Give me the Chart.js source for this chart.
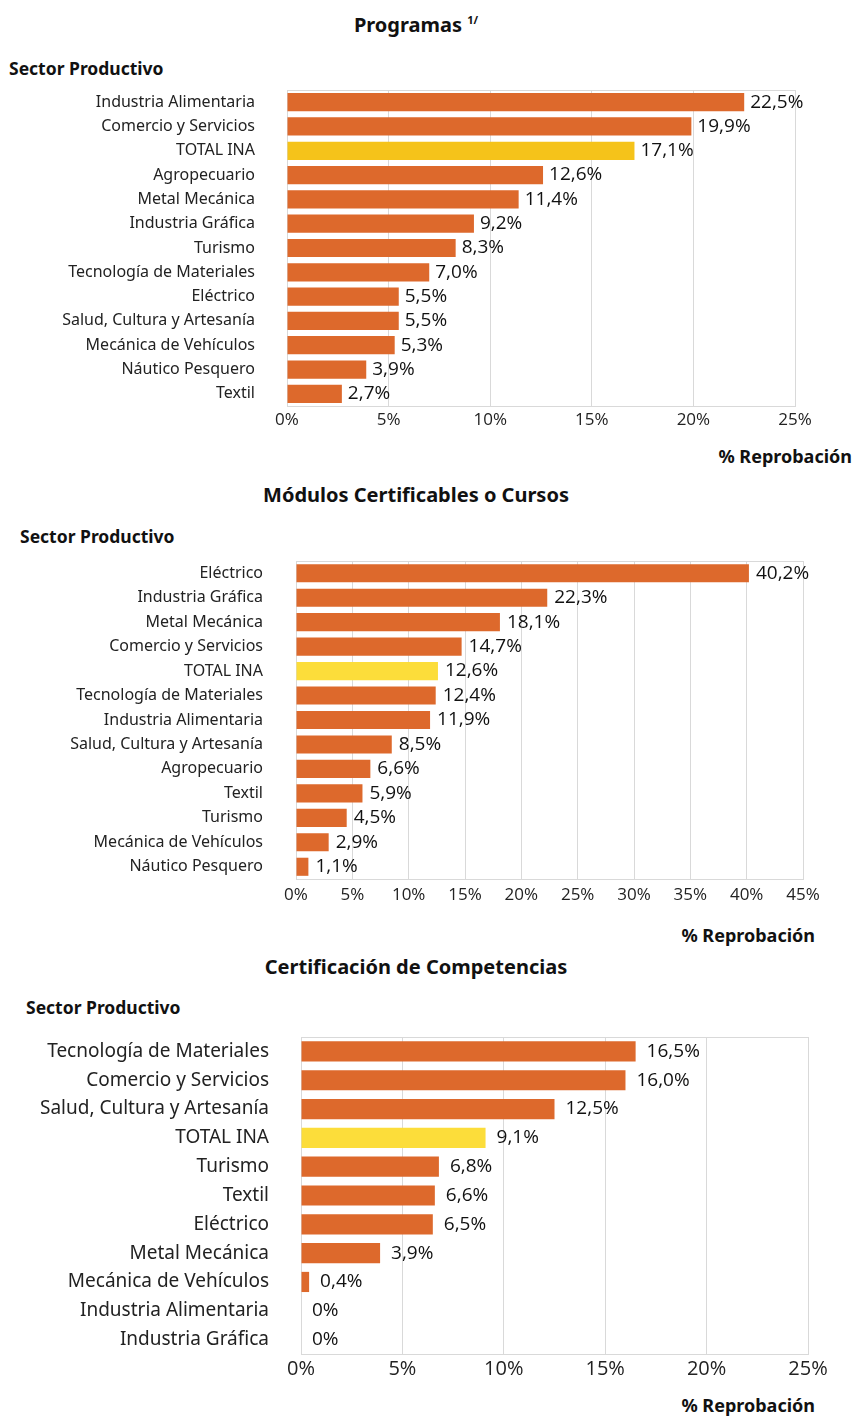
<!DOCTYPE html>
<html>
<head>
<meta charset="utf-8">
<script src="https://cdn.jsdelivr.net/npm/chart.js@4.4.1/dist/chart.umd.min.js"></script>
<style>
  body { margin: 0; background: #fff; width: 853px; height: 1416px; position: relative; overflow: hidden; font-family: "Noto Sans", sans-serif; color: #111; }
  .txt { position: absolute; white-space: nowrap; line-height: 26px; }
  .title { font-weight: bold; font-size: 20px; left: 0; width: 832px; text-align: center; }
  .title sup { font-size: 11px; vertical-align: 8px; }
  .sector { font-weight: bold; font-size: 17.5px; }
  .reprob { font-weight: bold; font-size: 18px; text-align: right; }
  canvas { position: absolute; left: 0; }
</style>
</head>
<body>
<div class="txt title" style="top:7px">Programas <sup>1/</sup></div>
<div class="txt sector" style="top:55px;left:9px">Sector Productivo</div>
<div class="txt reprob" style="top:443px;right:1px">% Reprobación</div>

<div class="txt title" style="top:482px">Módulos Certificables o Cursos</div>
<div class="txt sector" style="top:523px;left:20px">Sector Productivo</div>
<div class="txt reprob" style="top:922px;right:38px">% Reprobación</div>

<div class="txt title" style="top:954px">Certificación de Competencias</div>
<div class="txt sector" style="top:994px;left:26px">Sector Productivo</div>
<div class="txt reprob" style="top:1392px;right:38px">% Reprobación</div>

<div style="position:absolute;left:0;top:80px;width:853px;height:356px"><canvas id="c1"></canvas></div>
<div style="position:absolute;left:0;top:550px;width:853px;height:359px"><canvas id="c2"></canvas></div>
<div style="position:absolute;left:0;top:1025px;width:853px;height:361px"><canvas id="c3"></canvas></div>

<script>
// --- datos ---
const progLabels = ['Industria Alimentaria', 'Comercio y Servicios', 'TOTAL INA', 'Agropecuario', 'Metal Mecánica',
    'Industria Gráfica', 'Turismo', 'Tecnología de Materiales', 'Eléctrico', 'Salud, Cultura y Artesanía',
    'Mecánica de Vehículos', 'Náutico Pesquero', 'Textil'];
const progValues = [22.5, 19.9, 17.1, 12.6, 11.4, 9.2, 8.3, 7.0, 5.5, 5.5, 5.3, 3.9, 2.7];
const progTicks = [0, 5, 10, 15, 20, 25];

const modLabels = ['Eléctrico', 'Industria Gráfica', 'Metal Mecánica', 'Comercio y Servicios', 'TOTAL INA',
    'Tecnología de Materiales', 'Industria Alimentaria', 'Salud, Cultura y Artesanía', 'Agropecuario', 'Textil',
    'Turismo', 'Mecánica de Vehículos', 'Náutico Pesquero'];
const modValues = [40.2, 22.3, 18.1, 14.7, 12.6, 12.4, 11.9, 8.5, 6.6, 5.9, 4.5, 2.9, 1.1];
const modTicks = [0, 5, 10, 15, 20, 25, 30, 35, 40, 45];

const certLabels = ['Tecnología de Materiales', 'Comercio y Servicios', 'Salud, Cultura y Artesanía', 'TOTAL INA',
    'Turismo', 'Textil', 'Eléctrico', 'Metal Mecánica', 'Mecánica de Vehículos', 'Industria Alimentaria', 'Industria Gráfica'];
const certValues = [16.5, 16.0, 12.5, 9.1, 6.8, 6.6, 6.5, 3.9, 0.4, 0, 0];
const certTicks = [0, 5, 10, 15, 20, 25];

const ORANGE = '#DD692C';
const fmt = v => v === 0 ? '0%' : v.toFixed(1).replace('.', ',') + '%';

// etiquetas de valor y marco del área
const valueLabels = {
    id: 'valueLabels',
    afterDatasetsDraw(chart, args, opts) {
        const ctx = chart.ctx;
        const meta = chart.getDatasetMeta(0);
        ctx.save();
        ctx.font = opts.size + 'px "Open Sans", sans-serif';
        ctx.fillStyle = '#111';
        ctx.textBaseline = 'middle';
        ctx.textAlign = 'left';
        meta.data.forEach((bar, i) => {
            const v = chart.data.datasets[0].data[i];
            ctx.fillText(fmt(v), bar.x + opts.offset, bar.y);
        });
        ctx.restore();
    }
};
const frame = {
    id: 'frame',
    beforeDatasetsDraw(chart) {
        const a = chart.chartArea, ctx = chart.ctx;
        ctx.save();
        ctx.strokeStyle = '#d9d9d9';
        ctx.lineWidth = 1;
        ctx.strokeRect(Math.round(a.left) + 0.5, Math.round(a.top) + 0.5, Math.round(a.right - a.left), Math.round(a.bottom - a.top));
        ctx.restore();
    }
};

function makeChart(id, labels, values, ticks, cfg) {
    const max = ticks[ticks.length - 1];
    const colors = labels.map(l => l === 'TOTAL INA' ? cfg.yellow : ORANGE);
    return new Chart(document.getElementById(id), {
        type: 'bar',
        data: {
            labels: labels,
            datasets: [{
                data: values,
                backgroundColor: colors,
                borderWidth: 0,
                barPercentage: cfg.bar,
                categoryPercentage: 1
            }]
        },
        plugins: [valueLabels, frame],
        options: {
            indexAxis: 'y',
            responsive: true,
            maintainAspectRatio: false,
            animation: false,
            layout: { padding: { left: 0, top: cfg.top, right: 853 - cfg.right, bottom: 0 } },
            plugins: {
                legend: { display: false },
                tooltip: { enabled: false },
                valueLabels: { size: cfg.valSize, offset: cfg.valOffset }
            },
            scales: {
                x: {
                    min: 0, max: max,
                    afterBuildTicks: s => { s.ticks = ticks.map(v => ({ value: v })); },
                    afterFit: s => { s.height = cfg.xh; },
                    grid: { color: '#d9d9d9', drawTicks: false },
                    border: { color: '#d9d9d9' },
                    ticks: {
                        color: '#222', padding: cfg.tickPad, maxRotation: 0,
                        font: { family: '"Open Sans", sans-serif', size: cfg.tickSize },
                        callback: v => v + '%'
                    }
                },
                y: {
                    afterFit: s => { s.width = cfg.left; },
                    // el hueco entre etiqueta y barra va como tickLength (padding infla el área)
                    grid: { display: false, drawTicks: true, tickLength: cfg.labelGap },
                    border: { display: false },
                    ticks: {
                        color: '#222', padding: 0, autoSkip: false,
                        font: { family: '"Noto Sans", sans-serif', size: cfg.labelSize }
                    }
                }
            }
        }
    });
}

makeChart('c1', progLabels, progValues, progTicks, {
    yellow: '#F5C31A', bar: 0.75, top: 10, left: 287, right: 795, xh: 30,
    tickPad: 4, tickSize: 17, labelGap: 32, labelSize: 16, valSize: 19, valOffset: 6
});
makeChart('c2', modLabels, modValues, modTicks, {
    yellow: '#FCDD3A', bar: 0.74, top: 11, left: 296, right: 803, xh: 30,
    tickPad: 6, tickSize: 17, labelGap: 33, labelSize: 16, valSize: 19, valOffset: 7
});
makeChart('c3', certLabels, certValues, certTicks, {
    yellow: '#FCDD3A', bar: 0.70, top: 12, left: 301, right: 808, xh: 32,
    tickPad: 3, tickSize: 20, labelGap: 32, labelSize: 19, valSize: 19, valOffset: 11
});
</script>
</body>
</html>
